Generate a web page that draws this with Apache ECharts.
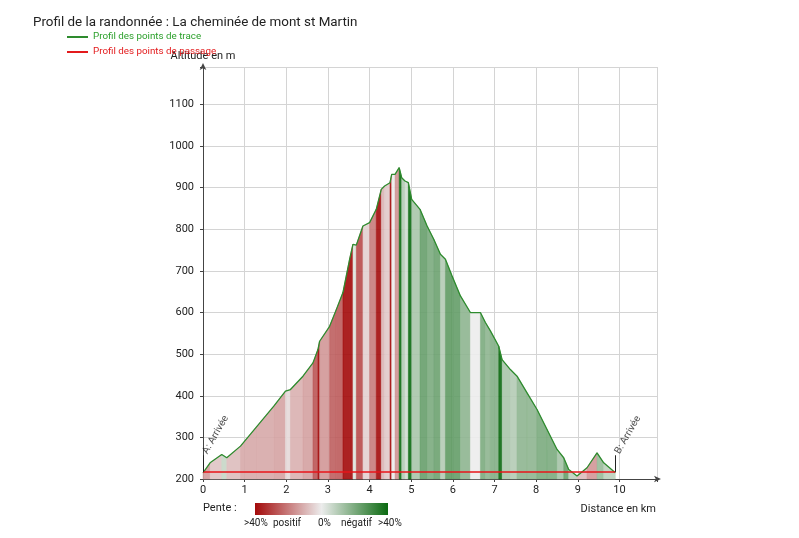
<!DOCTYPE html>
<html>
<head>
<meta charset="utf-8">
<script src="https://cdn.jsdelivr.net/npm/echarts@6/dist/echarts.min.js"></script>
<style>
html,body{margin:0;padding:0;background:#fff;}
#c{width:799px;height:538px;}
</style>
</head>
<body>
<div id="c"></div>
<script>
// ---- data ----
var distKm = [0, 0.17, 0.45, 0.57, 0.9, 1.3, 1.7, 1.98, 2.1, 2.4, 2.64, 2.76, 2.8, 3.04, 3.2, 3.36, 3.52, 3.6, 3.68, 3.84, 4.0, 4.16, 4.28, 4.36, 4.49, 4.53, 4.61, 4.71, 4.77, 4.85, 4.93, 5.01, 5.21, 5.38, 5.54, 5.70, 5.82, 5.98, 6.18, 6.42, 6.66, 6.78, 6.9, 7.1, 7.18, 7.38, 7.54, 7.78, 8.02, 8.26, 8.5, 8.66, 8.78, 8.98, 9.22, 9.46, 9.62, 9.9];
var elevM = [215, 239, 259, 251, 279, 327, 375, 411, 415, 447, 479, 511, 531, 567, 607, 648, 728, 764, 762, 808, 816, 848, 896, 904, 912, 932, 932, 948, 924, 916, 912, 872, 848, 808, 776, 740, 728, 688, 640, 600, 600, 576, 556, 519, 487, 463, 447, 407, 367, 319, 271, 251, 223, 207, 227, 263, 239, 215];
var passageDist = [0, 9.9];
var passageElev = [217, 217];
var markers = [{name: 'A: Arrivée', x: 0, y: 217}, {name: 'B: Arrivée', x: 9.9, y: 217}];
var xTicks = [0,1,2,3,4,5,6,7,8,9,10];
var yTicks = [200,300,400,500,600,700,800,900,1000,1100];
var slopeLegend = ['>40%', 'positif', '0%', 'négatif', '>40%'];

var FONT = 'Roboto';
var C_POS = [163, 10, 10], C_MID = [236, 236, 236], C_NEG = [10, 105, 16];
function mix(a, b, t) {
  return 'rgb(' + Math.round(a[0] + (b[0]-a[0])*t) + ',' + Math.round(a[1] + (b[1]-a[1])*t) + ',' + Math.round(a[2] + (b[2]-a[2])*t) + ')';
}
function slopeColor(s) {
  var t = Math.min(Math.abs(s) / 40, 1);
  return s >= 0 ? mix(C_MID, C_POS, t) : mix(C_MID, C_NEG, t);
}

var segs = [];
for (var i = 0; i < distKm.length - 1; i++) {
  var s = (elevM[i+1] - elevM[i]) / ((distKm[i+1] - distKm[i]) * 1000) * 100;
  segs.push([distKm[i], elevM[i], distKm[i+1], elevM[i+1], s]);
}
var profile = distKm.map(function (d, i) { return [d, elevM[i]]; });
var passage = passageDist.map(function (d, i) { return [d, passageElev[i]]; });

var chart = echarts.init(document.getElementById('c'));
chart.setOption({
  animation: false,
  textStyle: {fontFamily: FONT},
  title: {
    text: 'Profil de la randonnée : La cheminée de mont st Martin',
    left: 28, top: 11,
    textStyle: {fontFamily: FONT, fontSize: 13.4, fontWeight: 'normal', color: '#222'}
  },
  legend: {
    orient: 'vertical', left: 62, top: 27, itemGap: 5,
    itemWidth: 21, itemHeight: 2, icon: 'rect',
    textStyle: {fontFamily: FONT, fontSize: 9.8},
    data: [
      {name: 'Profil des points de trace', textStyle: {color: '#2ca02c'}},
      {name: 'Profil des points de passage', textStyle: {color: '#e31a1c'}}
    ]
  },
  grid: {left: 203, right: 142, top: 67, bottom: 59},
  xAxis: {
    type: 'value', min: 0, max: 10.9, interval: 1,
    name: 'Distance en km', nameLocation: 'end', nameGap: -1,
    nameTextStyle: {fontFamily: FONT, fontSize: 11, color: '#222', align: 'right', verticalAlign: 'top', padding: [25, 0, 0, 0]},
    axisLine: {show: true, lineStyle: {color: '#444'}, symbol: ['none', 'arrow'], symbolSize: [5, 7], symbolOffset: [0, 4]},
    axisTick: {show: true, length: 3, lineStyle: {color: '#444'}},
    axisLabel: {fontFamily: FONT, fontSize: 11, color: '#222', margin: 6,
      formatter: function (v) { return xTicks.indexOf(v) >= 0 ? String(v) : ''; }},
    splitLine: {show: true, lineStyle: {color: '#d4d4d4'}}
  },
  yAxis: {
    type: 'value', min: 200, max: 1190, interval: 100,
    name: 'Altitude en m', nameLocation: 'end', nameGap: 5,
    nameTextStyle: {fontFamily: FONT, fontSize: 11, color: '#222', align: 'center'},
    axisLine: {show: true, lineStyle: {color: '#444'}, symbol: ['none', 'arrow'], symbolSize: [5, 7], symbolOffset: [0, 4]},
    axisTick: {show: true, length: 3, lineStyle: {color: '#444'}},
    axisLabel: {fontFamily: FONT, fontSize: 11, color: '#222', margin: 9,
      formatter: function (v) { return yTicks.indexOf(v) >= 0 ? String(v) : ''; }},
    splitLine: {show: true, lineStyle: {color: '#d4d4d4'}}
  },
  series: [
    {
      name: 'pente', type: 'custom', silent: true, z: 1,
      data: segs,
      encode: {x: [0, 2], y: [1, 3]},
      renderItem: function (params, api) {
        var p1 = api.coord([api.value(0), api.value(1)]);
        var p2 = api.coord([api.value(2), api.value(3)]);
        var b1 = api.coord([api.value(0), 200]);
        var b2 = api.coord([api.value(2), 200]);
        var col = slopeColor(api.value(4));
        return {
          type: 'polygon',
          shape: {points: [b1, p1, p2, b2]},
          style: {fill: col, stroke: col, lineWidth: 0.5, opacity: 0.9}
        };
      }
    },
    {
      name: 'Profil des points de trace', type: 'line', z: 3,
      data: profile, showSymbol: false, symbol: 'none',
      itemStyle: {color: '#2e8b2e'},
      lineStyle: {color: '#2e8b2e', width: 1.3}
    },
    {
      name: 'Profil des points de passage', type: 'line', z: 4,
      data: passage, showSymbol: false, symbol: 'none',
      itemStyle: {color: '#e31a1c'},
      lineStyle: {color: '#e8141a', width: 1.5}
    },
    {
      name: 'marqueurs', type: 'scatter', z: 5, silent: true,
      symbolSize: 0,
      data: markers.map(function (m) { return {name: m.name, value: [m.x, m.y + 45]}; }),
      label: {
        show: true, formatter: '{b}', position: 'right', distance: 2, rotate: 60,
        align: 'left', verticalAlign: 'middle',
        fontFamily: FONT, fontSize: 10, color: '#222'
      },
      markLine: {
        silent: true, symbol: 'none', label: {show: false},
        lineStyle: {color: '#222', width: 1, type: 'solid'},
        data: markers.map(function (m) { return [{coord: [m.x, m.y]}, {coord: [m.x, m.y + 40]}]; })
      }
    }
  ],
  graphic: [
    {type: 'text', left: 203, top: 503, style: {text: 'Pente :', font: '11px Roboto', fill: '#222'}},
    {type: 'rect', shape: {x: 255, y: 503, width: 133, height: 12},
      style: {fill: new echarts.graphic.LinearGradient(0, 0, 1, 0, [
        {offset: 0, color: 'rgb(163,10,10)'},
        {offset: 0.5, color: 'rgb(236,236,236)'},
        {offset: 1, color: 'rgb(10,105,16)'}
      ])}},
    {type: 'text', x: 244, y: 518, style: {text: slopeLegend[0], font: '10px Roboto', fill: '#222'}},
    {type: 'text', x: 273, y: 518, style: {text: slopeLegend[1], font: '10px Roboto', fill: '#222'}},
    {type: 'text', x: 318, y: 518, style: {text: slopeLegend[2], font: '10px Roboto', fill: '#222'}},
    {type: 'text', x: 341, y: 518, style: {text: slopeLegend[3], font: '10px Roboto', fill: '#222'}},
    {type: 'text', x: 378, y: 518, style: {text: slopeLegend[4], font: '10px Roboto', fill: '#222'}}
  ]
});
</script>
</body>
</html>
